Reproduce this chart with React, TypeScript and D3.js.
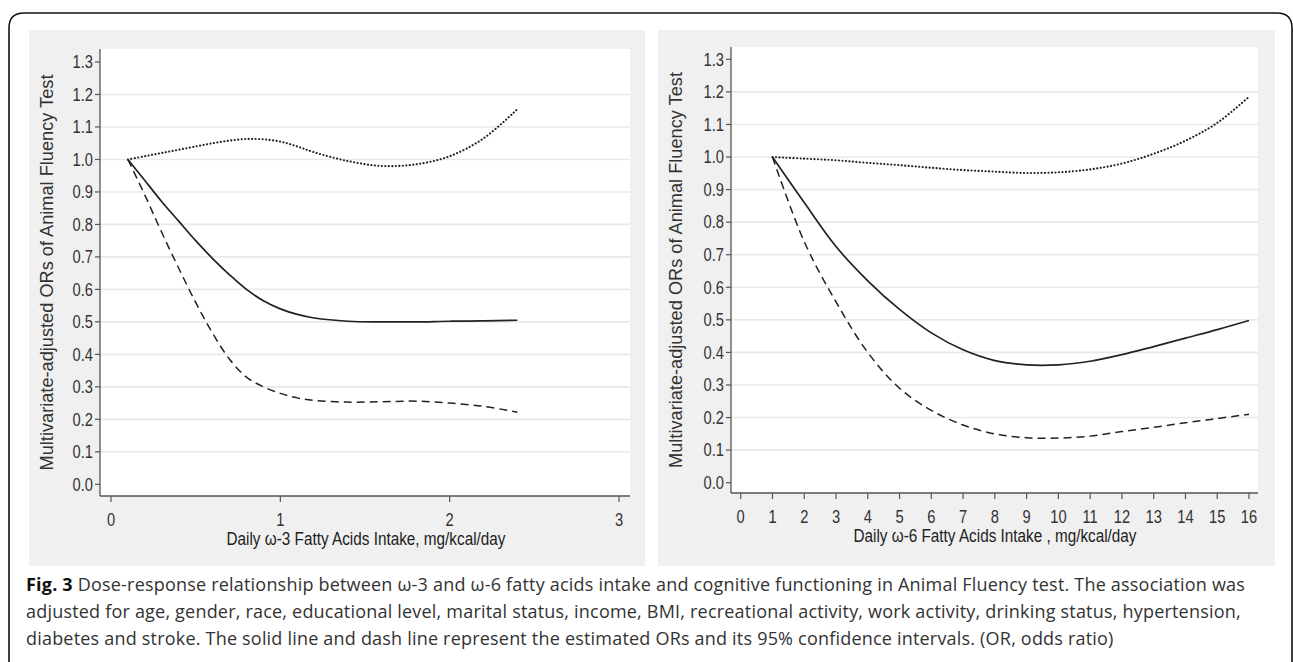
import React from "react";
import * as d3 from "d3";

// omega-3 panel
const w3X = [0.1, 0.2, 0.3, 0.4, 0.5, 0.6, 0.7, 0.8, 0.9, 1.0, 1.1, 1.2, 1.4, 1.6, 1.8, 2.0, 2.2, 2.4];
const w3Or = [1.0, 0.935, 0.87, 0.81, 0.75, 0.695, 0.645, 0.6, 0.565, 0.54, 0.523, 0.512, 0.502, 0.5, 0.5, 0.502, 0.503, 0.505];
const w3Upper = [1.0, 1.01, 1.02, 1.03, 1.04, 1.05, 1.058, 1.063, 1.062, 1.055, 1.04, 1.022, 0.995, 0.98, 0.985, 1.01, 1.065, 1.155];
const w3Lower = [1.0, 0.89, 0.775, 0.665, 0.56, 0.465, 0.385, 0.33, 0.3, 0.28, 0.266, 0.258, 0.253, 0.254, 0.256, 0.25, 0.24, 0.222];

// omega-6 panel
const w6X = [1, 2, 3, 4, 5, 6, 7, 8, 9, 10, 11, 12, 13, 14, 15, 16];
const w6Or = [1.0, 0.86, 0.725, 0.62, 0.532, 0.46, 0.408, 0.375, 0.362, 0.362, 0.373, 0.393, 0.418, 0.444, 0.47, 0.498];
const w6Upper = [1.0, 0.995, 0.99, 0.982, 0.975, 0.967, 0.96, 0.955, 0.951, 0.953, 0.962, 0.98, 1.01, 1.05, 1.105, 1.185];
const w6Lower = [1.0, 0.74, 0.555, 0.4, 0.29, 0.222, 0.177, 0.15, 0.138, 0.137, 0.143, 0.157, 0.17, 0.184, 0.197, 0.21];

const yTicks = [0, 0.1, 0.2, 0.3, 0.4, 0.5, 0.6, 0.7, 0.8, 0.9, 1.0, 1.1, 1.2, 1.3];
const w3Ticks = [0, 1, 2, 3];
const w6Ticks = d3.range(0, 17);

const yTitle = "Multivariate-adjusted ORs of Animal Fluency Test";
const captionLines = [
  "Dose-response relationship between ω-3 and ω-6 fatty acids intake and cognitive functioning in Animal Fluency test. The association was",
  "adjusted for age, gender, race, educational level, marital status, income, BMI, recreational activity, work activity, drinking status, hypertension,",
  "diabetes and stroke. The solid line and dash line represent the estimated ORs and its 95% confidence intervals. (OR, odds ratio)",
];

const sans = "'Liberation Sans', Arial, sans-serif";
const squeeze = 0.84;

const Panel = ({ box, plot, xDomain, xRange, yRange, xTicks, xs, est, upper, lower, xTitle, titleX, titleW }) => {
  const x = d3.scaleLinear().domain(xDomain).range(xRange);
  const y = d3.scaleLinear().domain([0, 1.3]).range(yRange);
  const line = (vals) =>
    d3
      .line()
      .x((d, i) => x(xs[i]))
      .y((d) => y(d))
      .curve(d3.curveCatmullRom)(vals);

  const midY = (plot.top + plot.bottom) / 2;
  return (
    <g>
      <rect x={box.x0} y={box.y0} width={box.x1 - box.x0} height={box.y1 - box.y0} fill="#f0f0f0" />
      <rect x={plot.left} y={plot.top} width={plot.right - plot.left} height={plot.bottom - plot.top} fill="#fff" />
      {yTicks
        .filter((t) => t > 0 && t < 1.25)
        .map((t) => (
          <line key={t} x1={plot.left} x2={plot.right} y1={y(t)} y2={y(t)} stroke="#e9e9e9" strokeWidth={1.6} />
        ))}
      {/* axes */}
      <line x1={plot.left} x2={plot.left} y1={plot.top} y2={plot.bottom} stroke="#555" strokeWidth={1.3} />
      <line x1={plot.left} x2={plot.right} y1={plot.bottom} y2={plot.bottom} stroke="#555" strokeWidth={1.3} />
      {yTicks.map((t) => (
        <g key={t}>
          <line x1={plot.left - 5} x2={plot.left} y1={y(t)} y2={y(t)} stroke="#555" strokeWidth={1.2} />
          <text
            transform={`translate(${plot.left - 7},${y(t)}) scale(${squeeze},1)`}
            dy="0.36em"
            textAnchor="end"
            fontSize={17.5}
            fontFamily={sans}
            fill="#333"
          >
            {t.toFixed(1)}
          </text>
        </g>
      ))}
      {xTicks.map((t) => (
        <g key={t}>
          <line x1={x(t)} x2={x(t)} y1={plot.bottom} y2={plot.bottom + 6} stroke="#555" strokeWidth={1.2} />
          <text
            transform={`translate(${x(t)},${plot.bottom + 30}) scale(${squeeze},1)`}
            textAnchor="middle"
            fontSize={17.5}
            fontFamily={sans}
            fill="#333"
          >
            {t}
          </text>
        </g>
      ))}
      <text
        x={titleX - titleW / 2}
        y={plot.bottom + 49}
        textLength={titleW}
        lengthAdjust="spacingAndGlyphs"
        fontSize={17.5}
        fontFamily={sans}
        fill="#222"
      >
        {xTitle}
      </text>
      <text
        transform={`translate(${box.x0 + 24},${midY}) rotate(-90)`}
        textAnchor="middle"
        fontSize={18.2}
        fontFamily={sans}
        fill="#333"
      >
        {yTitle}
      </text>
      {/* curves */}
      <path d={line(upper)} fill="none" stroke="#222" strokeWidth={2.1} strokeDasharray="0.1,3.4" strokeLinecap="round" />
      <path d={line(lower)} fill="none" stroke="#222" strokeWidth={1.5} strokeDasharray="8,5" />
      <path d={line(est)} fill="none" stroke="#222" strokeWidth={1.7} />
    </g>
  );
};

export default function App() {
  return (
    <svg width={1293} height={662} style={{ position: "absolute", left: 0, top: 0, background: "#fff" }}>
      <path
        d="M9,700 L9,28 Q9,13 24,13 L1277,13 Q1292,13 1292,28 L1292,700"
        fill="none"
        stroke="#111"
        strokeWidth={1.6}
      />
      <Panel
        box={{ x0: 29, y0: 30, x1: 645, y1: 566 }}
        plot={{ left: 100, top: 49, right: 630, bottom: 496 }}
        xDomain={[0, 3]}
        xRange={[111, 619]}
        yRange={[484.3, 62]}
        xTicks={w3Ticks}
        xs={w3X}
        est={w3Or}
        upper={w3Upper}
        lower={w3Lower}
        xTitle="Daily ω-3 Fatty Acids Intake, mg/kcal/day"
        titleX={366}
        titleW={279}
      />
      <Panel
        box={{ x0: 658, y0: 30, x1: 1275, y1: 566 }}
        plot={{ left: 731, top: 47, right: 1258, bottom: 493 }}
        xDomain={[0, 16]}
        xRange={[740.7, 1249]}
        yRange={[482.7, 59.3]}
        xTicks={w6Ticks}
        xs={w6X}
        est={w6Or}
        upper={w6Upper}
        lower={w6Lower}
        xTitle="Daily ω-6 Fatty Acids Intake , mg/kcal/day"
        titleX={995}
        titleW={283}
      />
      <g fontFamily="'Open Sans', 'Noto Sans', sans-serif" fontSize={18} letterSpacing={0.2} fill="#333">
        <text x={26} y={591}>
          <tspan fontWeight="bold" fill="#111">Fig. 3</tspan> {captionLines[0]}
        </text>
        <text x={26} y={618}>{captionLines[1]}</text>
        <text x={26} y={645}>{captionLines[2]}</text>
      </g>
    </svg>
  );
}
